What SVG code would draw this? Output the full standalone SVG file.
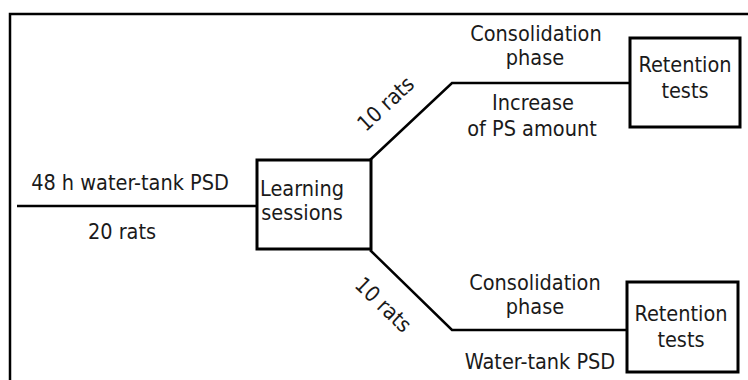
<svg xmlns="http://www.w3.org/2000/svg" width="748" height="380" viewBox="0 0 748 380">
<style>
.t{font-family:"DejaVu Sans Condensed","DejaVu Sans",sans-serif;font-stretch:condensed;font-size:21.5px;fill:#1a1a1a;text-anchor:middle}
.ln{fill:none;stroke:#000;stroke-width:2.5}
.box{fill:#fff;stroke:#000;stroke-width:3}
</style>
<rect width="748" height="380" fill="#fff"/>
<g id="frame">
<path d="M10,381 V14 H748" fill="none" stroke="#000" stroke-width="2.5"/>
</g>
<g id="connectors">
<path class="ln" d="M17,206 H256"/>
<path class="ln" d="M370,160 L452,83 H630"/>
<path class="ln" d="M370,250 L452,330 H627"/>
</g>
<g id="labels">
<text class="t" x="130" y="190">48 h water-tank PSD</text>
<text class="t" x="122" y="239">20 rats</text>
<text class="t" transform="translate(386,104) rotate(-43)" y="7">10 rats</text>
<text class="t" transform="translate(383,305) rotate(44)" y="7">10 rats</text>
<text class="t" x="536" y="41">Consolidation</text>
<text class="t" x="535" y="65">phase</text>
<text class="t" x="533" y="110">Increase</text>
<text class="t" x="532" y="136">of PS amount</text>
<text class="t" x="535" y="290">Consolidation</text>
<text class="t" x="535" y="314">phase</text>
<text class="t" x="540" y="369">Water-tank PSD</text>
</g>
<g id="learning">
<rect class="box" x="257" y="160" width="114" height="89"/>
<text class="t" x="302" y="196">Learning</text>
<text class="t" x="302" y="220">sessions</text>
</g>
<g id="retention1">
<rect class="box" x="630" y="38" width="110" height="89"/>
<text class="t" x="685" y="72">Retention</text>
<text class="t" x="685" y="98">tests</text>
</g>
<g id="retention2">
<rect class="box" x="627" y="282" width="111" height="90"/>
<text class="t" x="681" y="321">Retention</text>
<text class="t" x="681" y="347">tests</text>
</g>
</svg>
